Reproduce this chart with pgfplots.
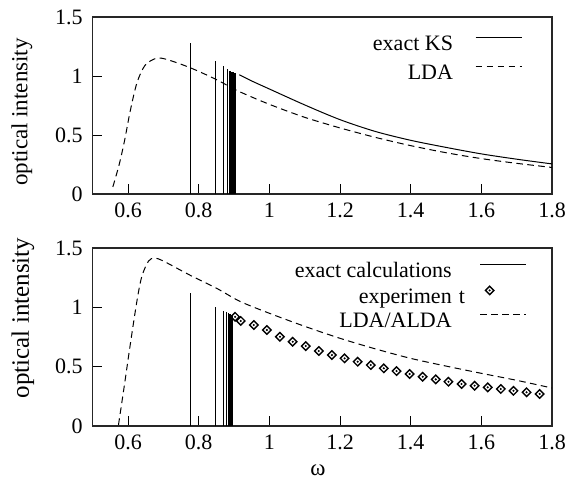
\documentclass[border=0pt]{standalone}
\usepackage{fontspec}
\setmainfont{Liberation Serif}
\usepackage{pgfplots}
\pgfplotsset{compat=1.18}

\pgfplotsset{
  gp/.style={
    scale only axis, width=229.65pt,
    xmin=0.5, xmax=1.8, ymin=0, ymax=1.5,
    xtick={0.6,0.8,1,1.2,1.4,1.6,1.8},
    ytick={0,0.5,1,1.5},
    tick align=inside, xtick pos=left, ytick pos=left,
    major tick length=4.8pt,
    tick style={black, line width=0.5pt},
    axis line style={black!85, line width=0.55pt},
    /pgf/number format/assume math mode=true,
    tick label style={font=\fontsize{11}{13}\selectfont},
    xticklabel style={yshift=-1pt},
    yticklabel style={xshift=-1.5pt},
    legend cell align=right,
    legend plot pos=right,
    legend style={draw=none, fill=none, inner sep=0pt, outer sep=0pt,
      font=\fontsize{11}{13}\selectfont,
      nodes={inner sep=0pt, text height=8pt, text depth=2.5pt},
      anchor=north east},
    legend image code/.code={\draw[#1] (0pt,3.7pt) -- (23pt,3.7pt);},
  },
  comb/.style={ycomb, black, line width=0.4pt,
    legend image code/.code={\draw[black, line width=0.5pt] (0pt,3.7pt) -- (23pt,3.7pt);}},
  lda/.style={black, line width=0.5pt, dash pattern=on 3.3pt off 2.2pt},
}
\tikzset{ylab/.style={rotate=90, anchor=center, inner sep=0pt}}

\begin{document}
\begin{tikzpicture}
\useasboundingbox (0,0) rectangle (286pt,239pt);

% ---------- top panel ----------
\begin{axis}[gp, height=88.5pt,
  at={(46.35pt,142pt)}, anchor=south west,
  legend style={at={(axis description cs:0.9347,0.902)}, column sep=11pt, row sep=4pt},
]
\addplot[comb] coordinates {
  (0.777,1.277) (0.846,1.127) (0.870,1.082) (0.882,1.057) (0.887,1.045)
  (0.890,1.039) (0.893,1.035) (0.895,1.032) (0.897,1.030) (0.899,1.028)
  (0.901,1.026) (0.903,1.025)
};
\addlegendentry{exact KS}
\addplot[black, line width=0.5pt, smooth, forget plot] coordinates {
  (0.915,1.010) (0.95,0.958) (1.0,0.890) (1.1,0.755) (1.2,0.630)
  (1.3,0.530) (1.4,0.455) (1.5,0.395) (1.6,0.340) (1.7,0.295) (1.8,0.255)
};
\addplot[lda, smooth] coordinates {
  (0.557,0.06) (0.575,0.25) (0.590,0.45) (0.606,0.70) (0.625,0.94)
  (0.648,1.09) (0.680,1.15) (0.710,1.14) (0.776,1.07) (0.850,0.97)
  (0.910,0.875) (1.0,0.76) (1.1,0.65) (1.2,0.56) (1.3,0.48)
  (1.4,0.41) (1.5,0.35) (1.6,0.30) (1.7,0.26) (1.8,0.225)
};
\addlegendentry{LDA}
\end{axis}

% ---------- bottom panel ----------
\begin{axis}[gp, height=89pt,
  at={(46.35pt,26pt)}, anchor=south west,
  legend style={at={(axis description cs:0.945,0.924)}, column sep=14pt, row sep=1.5pt},
]
\addplot[comb] coordinates {
  (0.777,1.118) (0.846,1.005) (0.870,0.969) (0.878,0.958) (0.884,0.949)
  (0.887,0.944) (0.889,0.941) (0.891,0.938) (0.893,0.935) (0.895,0.932)
  (0.896,0.930)
};
\addlegendentry{exact calculations}
\addplot[only marks, mark=square, mark size=1.5pt,
  mark options={rotate=45, black, line width=0.7pt, fill=white},
  legend image code/.code={%
    \path[draw=none] (0pt,3.7pt) -- (23pt,3.7pt);
    \filldraw[black, line width=0.7pt, fill=white] (4.7pt,1.6pt) -- (6.8pt,3.7pt) -- (4.7pt,5.8pt) -- (2.6pt,3.7pt) -- cycle;
    \fill[black] (4.7pt,3.7pt) circle (0.3pt);}]
  coordinates {
  (0.903,0.920) (0.919,0.885) (0.956,0.851) (0.993,0.809) (1.030,0.752)
  (1.066,0.710) (1.103,0.674) (1.140,0.632) (1.177,0.598) (1.213,0.570)
  (1.250,0.542) (1.287,0.514) (1.324,0.486) (1.360,0.463) (1.397,0.438)
  (1.434,0.415) (1.471,0.393) (1.507,0.373) (1.544,0.354) (1.581,0.340)
  (1.618,0.326) (1.655,0.312) (1.691,0.297) (1.728,0.284) (1.765,0.270)
};
\addlegendentry{experimen\rlap{\hspace{3.5pt}t}}
\addplot[only marks, mark=*, mark size=0.3pt, black, forget plot] coordinates {
  (0.903,0.920) (0.919,0.885) (0.956,0.851) (0.993,0.809) (1.030,0.752)
  (1.066,0.710) (1.103,0.674) (1.140,0.632) (1.177,0.598) (1.213,0.570)
  (1.250,0.542) (1.287,0.514) (1.324,0.486) (1.360,0.463) (1.397,0.438)
  (1.434,0.415) (1.471,0.393) (1.507,0.373) (1.544,0.354) (1.581,0.340)
  (1.618,0.326) (1.655,0.312) (1.691,0.297) (1.728,0.284) (1.765,0.270)
};
\addplot[lda, smooth] coordinates {
  (0.573,0.01) (0.590,0.35) (0.606,0.68) (0.625,1.05) (0.639,1.26)
  (0.658,1.39) (0.675,1.415) (0.700,1.39) (0.776,1.27) (0.851,1.16)
  (0.917,1.05) (1.0,0.95) (1.1,0.84) (1.2,0.739) (1.3,0.65)
  (1.4,0.570) (1.5,0.505) (1.6,0.444) (1.7,0.385) (1.8,0.32)
};
\addlegendentry{LDA/ALDA}
\end{axis}

% axis labels, placed outside the clipped axes
\node[ylab, font=\fontsize{11.5}{13}\selectfont] at (11pt,183pt)
  {optical intensity};
\node[ylab, font=\fontsize{12.5}{14}\selectfont] at (11.5pt,80pt)
  {optical intensity};
\node[anchor=center, inner sep=0pt, font=\fontsize{11.5}{13}\selectfont]
  at (159pt,4pt) {ω};
\end{tikzpicture}
\end{document}
